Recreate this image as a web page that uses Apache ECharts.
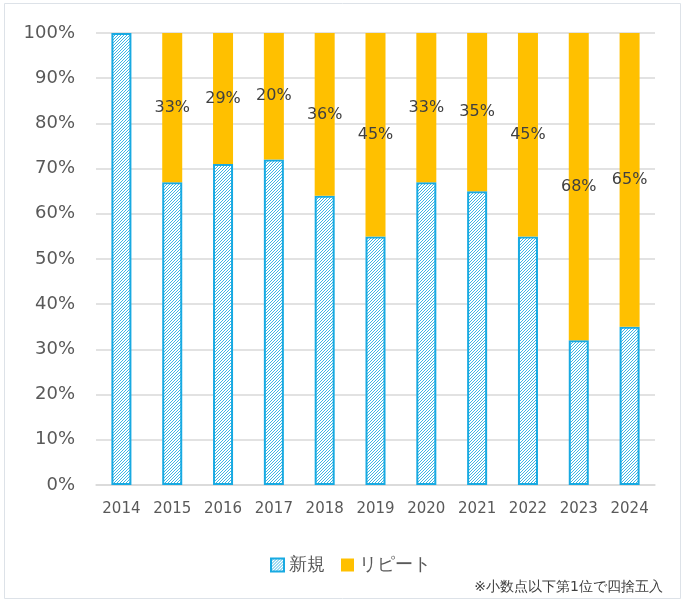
<!DOCTYPE html>
<html><head><meta charset="utf-8">
<script src="https://cdn.jsdelivr.net/npm/echarts@6/dist/echarts.min.js"></script>
<style>html,body{margin:0;padding:0;background:#fff}#c{width:688px;height:604px}</style>
</head><body><div id="c"></div>
<script>
var categories = ['2014','2015','2016','2017','2018','2019','2020','2021','2022','2023','2024'];
var newValues = [100, 67, 71, 72, 64, 55, 67, 65, 55, 32, 35];
var repeatValues = [0, 33, 29, 28, 36, 45, 33, 35, 45, 68, 65];
var repeatLabels = ['', '33%', '29%', '20%', '36%', '45%', '33%', '35%', '45%', '68%', '65%'];
var yTicks = [0,10,20,30,40,50,60,70,80,90,100];

var pc = document.createElement('canvas');
pc.width = 3; pc.height = 3;
var g = pc.getContext('2d');
g.fillStyle = '#ffffff'; g.fillRect(0,0,3,3);
g.fillStyle = '#3db6e4';
g.fillRect(0,2,1,1); g.fillRect(1,1,1,1); g.fillRect(2,0,1,1);

var font = 'DejaVu Sans';
var chart = echarts.init(document.getElementById('c'));
chart.setOption({
  animation: false,
  backgroundColor: '#fff',
  textStyle: {fontFamily: font},
  grid: {left: 96, right: 33, top: 33, bottom: 119},
  legend: {
    left: 265, top: 551, itemWidth: 13, itemHeight: 13, itemGap: 16,
    textStyle: {fontSize: 18, color: '#595959', fontFamily: font},
    data: [{name: '新規', icon: 'rect'}, {name: 'リピート', icon: 'rect'}]
  },
  xAxis: {
    type: 'category', data: categories,
    axisLine: {lineStyle: {color: '#d9d9d9', width: 1.5}},
    axisTick: {show: false},
    axisLabel: {fontSize: 15, color: '#595959', margin: 17, fontFamily: font}
  },
  yAxis: {
    type: 'value', min: 0, max: 100, interval: 10,
    axisLine: {show: false}, axisTick: {show: false},
    splitLine: {lineStyle: {color: '#d9d9d9', width: 1.5}},
    axisLabel: {fontSize: 18, color: '#595959', margin: 21, fontFamily: font,
      formatter: function(v){ return yTicks.indexOf(v) >= 0 ? v + '%' : ''; }}
  },
  series: [
    {
      name: '新規', type: 'bar', stack: 't', barWidth: 20, data: newValues,
      itemStyle: {color: {image: pc, repeat: 'repeat'}, borderColor: '#18aae2', borderWidth: 2}
    },
    {
      name: 'リピート', type: 'bar', stack: 't', barWidth: 21, data: repeatValues,
      itemStyle: {color: '#FFC000'},
      label: {show: true, position: 'inside', fontSize: 16, color: '#404040', fontFamily: font,
        formatter: function(p){ return repeatLabels[p.dataIndex]; }}
    }
  ],
  graphic: [
    {type: 'rect', shape: {x: 4.5, y: 3.5, width: 676, height: 595},
      style: {fill: 'none', stroke: '#dde2e8', lineWidth: 1}, silent: true},
    {type: 'text', right: 25, top: 580,
      style: {text: '※小数点以下第1位で四捨五入', fontSize: 14, fill: '#404040', fontFamily: font}}
  ]
});
</script></body></html>
